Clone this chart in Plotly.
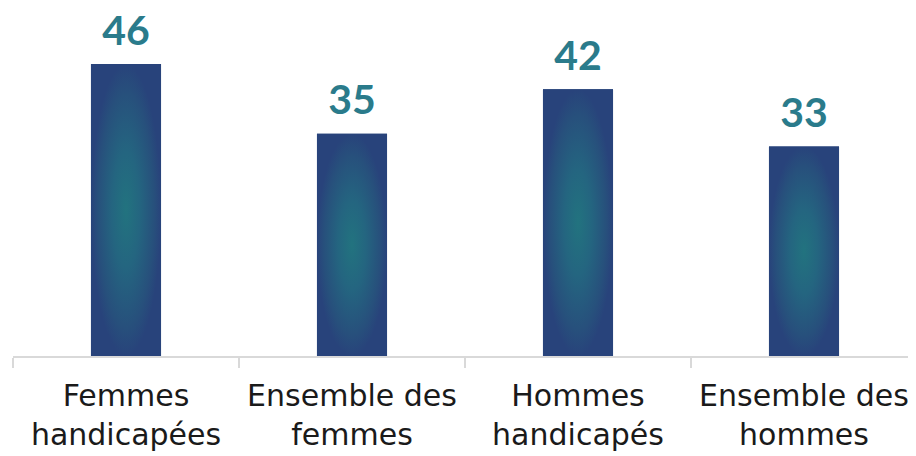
import plotly.graph_objects as go

categories = ["Femmes<br>handicapées", "Ensemble des<br>femmes", "Hommes<br>handicapés", "Ensemble des<br>hommes"]
values = [46, 35, 42, 33]

xpos = list(range(len(categories)))
half = 0.155

fig = go.Figure()

fig.add_trace(go.Bar(
    x=xpos, y=values, width=2 * half,
    marker=dict(color="#27437b", line=dict(width=0)),
    hoverinfo="skip", showlegend=False,
))

for xi, v in zip(xpos, values):
    fig.add_trace(go.Scatter(
        x=[xi - half, xi + half, xi + half, xi - half, xi - half],
        y=[0, 0, v, v, 0],
        mode="lines", line=dict(width=0), fill="toself",
        fillgradient=dict(type="radial",
                          colorscale=[[0, "#22737f"], [0.4, "#246580"], [0.8, "#27507c"], [1, "#28437b"]]),
        hoverinfo="skip", showlegend=False,
    ))

fig.add_trace(go.Scatter(
    x=xpos, y=values, mode="markers+text", text=[f"<b>{v}</b>" for v in values],
    textposition="top center", cliponaxis=False,
    marker=dict(size=13, color="rgba(0,0,0,0)"),
    textfont=dict(family="Lato", size=41, color="#2a7b8b"),
    hoverinfo="skip", showlegend=False,
))

fig.update_layout(
    width=916, height=456,
    margin=dict(l=5, r=7, t=0, b=108),
    paper_bgcolor="white", plot_bgcolor="white",
    font=dict(family="DejaVu Sans", color="#1a1a1a"),
    xaxis=dict(
        range=[-0.5, 3.5], tickvals=xpos, ticktext=categories,
        ticks="", showgrid=False, zeroline=False, automargin=False,
        showline=True, linecolor="#d9d9d9", linewidth=1.5,
        ticklabelstandoff=12,
        tickfont=dict(family="DejaVu Sans", size=30, color="#1a1a1a"),
        minor=dict(tick0=-0.5, dtick=1, ticks="outside", ticklen=10,
                   tickcolor="#d9d9d9", tickwidth=1.5, showgrid=False),
    ),
    yaxis=dict(range=[0, 54.8], visible=False, fixedrange=True, automargin=False),
)

fig.write_html("out.html")
